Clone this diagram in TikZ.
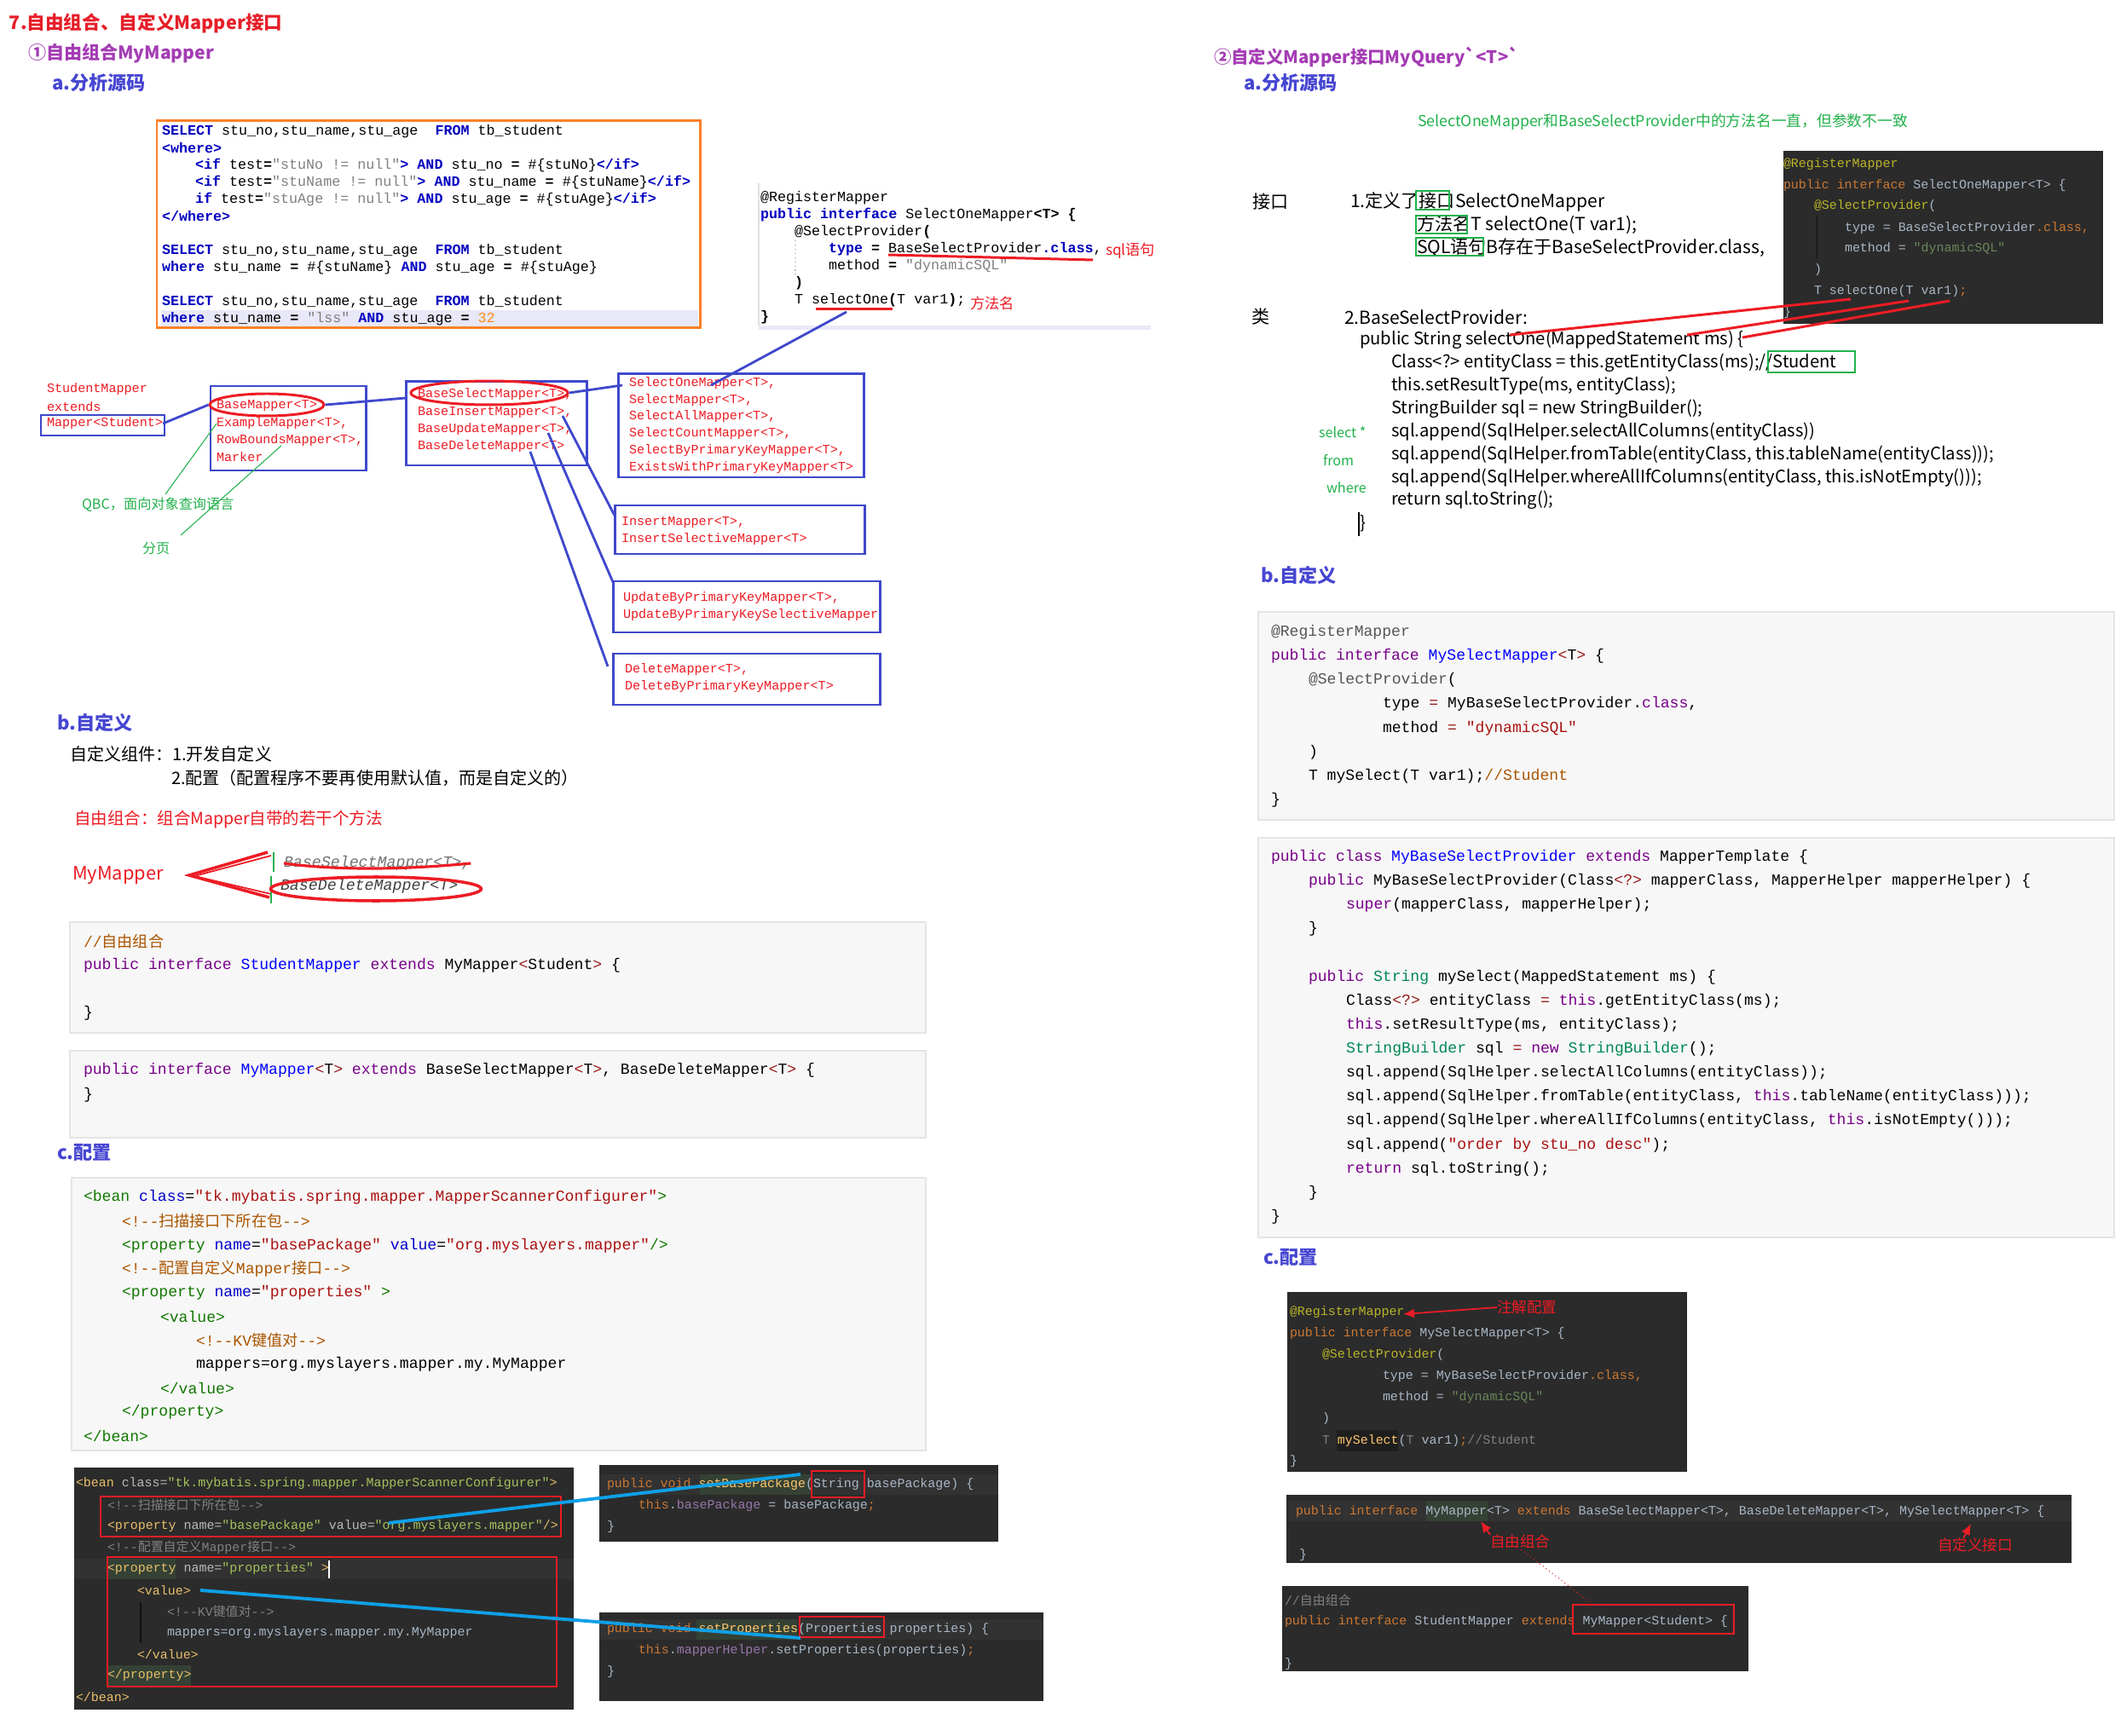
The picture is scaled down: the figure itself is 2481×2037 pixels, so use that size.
\documentclass[tikz,border=0pt]{standalone}
\usepackage{fontspec}
\usepackage{xcolor}
\usepackage{tikz}
\usetikzlibrary{arrows.meta, positioning, calc, shapes.geometric}
\setmonofont{Liberation Mono}
\newfontfamily\cjk{Noto Sans CJK SC}[Ligatures=TeXOff]
\newcommand\fsz[1]{\fontsize{#1}{#1}\selectfont}
\newcommand\zh[1]{{\cjk #1}}

\definecolor{tred}{HTML}{E61E28}
\definecolor{tpur}{HTML}{A43CB4}
\definecolor{tblu}{HTML}{4646D2}
\definecolor{obox}{HTML}{FF7F27}
\definecolor{bblue}{HTML}{3F48CC}
\definecolor{mred}{HTML}{ED1C24}
\definecolor{mgrn}{HTML}{22B14C}
\definecolor{ijkw}{HTML}{0000C0}
\definecolor{ijst}{HTML}{808080}
\definecolor{ijnum}{HTML}{FF8C1A}
\definecolor{lav}{HTML}{E8E8F8}
\definecolor{cmbg}{HTML}{F7F7F7}
\definecolor{cmbd}{HTML}{E4E4E4}
\definecolor{cmkw}{HTML}{770088}
\definecolor{cmdef}{HTML}{0000FF}
\definecolor{cmcom}{HTML}{AA5500}
\definecolor{cmstr}{HTML}{AA1111}
\definecolor{cmtag}{HTML}{117700}
\definecolor{cmatt}{HTML}{0000CC}
\definecolor{cmtyp}{HTML}{008855}
\definecolor{cmop}{HTML}{981A1A}
\definecolor{cmmeta}{HTML}{555555}
\definecolor{dbg}{HTML}{2B2B2B}
\definecolor{drow}{HTML}{323232}
\definecolor{dhl}{HTML}{344134}
\definecolor{dfg}{HTML}{A9B7C6}
\definecolor{dkw}{HTML}{CC7832}
\definecolor{dann}{HTML}{BBB529}
\definecolor{dstr}{HTML}{6A8759}
\definecolor{dcom}{HTML}{808080}
\definecolor{dtag}{HTML}{E8BF6A}
\definecolor{datt}{HTML}{BABABA}
\definecolor{dxv}{HTML}{A5C25C}
\definecolor{dfun}{HTML}{FFC66D}
\definecolor{dfld}{HTML}{9876AA}
\definecolor{cyln}{HTML}{0FA0E6}

\newcommand\ijk[1]{\textcolor{ijkw}{\textbf{#1}}}
\newcommand\ijb[1]{\textbf{#1}}
\newcommand\ijs[1]{\textcolor{ijst}{#1}}
\newcommand\cmk[1]{\textcolor{cmkw}{#1}}
\newcommand\cmdf[1]{\textcolor{cmdef}{#1}}
\newcommand\cmc[1]{\textcolor{cmcom}{#1}}
\newcommand\cms[1]{\textcolor{cmstr}{#1}}
\newcommand\cmt[1]{\textcolor{cmtag}{#1}}
\newcommand\cma[1]{\textcolor{cmatt}{#1}}
\newcommand\cmy[1]{\textcolor{cmtyp}{#1}}
\newcommand\cmo[1]{\textcolor{cmop}{#1}}
\newcommand\cmm[1]{\textcolor{cmmeta}{#1}}
\newcommand\dkw[1]{\textcolor{dkw}{#1}}
\newcommand\dan[1]{\textcolor{dann}{#1}}
\newcommand\dst[1]{\textcolor{dstr}{#1}}
\newcommand\dcm[1]{\textcolor{dcom}{#1}}
\newcommand\dtg[1]{\textcolor{dtag}{#1}}
\newcommand\dat[1]{\textcolor{datt}{#1}}
\newcommand\dxs[1]{\textcolor{dxv}{#1}}
\newcommand\dfn[1]{\textcolor{dfun}{#1}}
\newcommand\dfl[1]{\textcolor{dfld}{#1}}

\begin{document}
\begin{tikzpicture}[
    x=0.1mm, y=-0.1mm,
    txt/.style={inner sep=0, outer sep=0, anchor=west},
    hd/.style={txt, font=\cjk\bfseries\fsz{6pt}},
    nt/.style={txt, font=\cjk\fsz{5.7pt}},
    rn/.style={txt, font=\cjk\fsz{5.75pt}},
    sq/.style={txt, font=\ttfamily\fsz{4.75pt}},
    hr/.style={txt, text=mred, font=\ttfamily\fsz{4.3pt}},
    lc/.style={txt, font=\ttfamily\fsz{5.15pt}},
    dc/.style={txt, text=dfg, font=\ttfamily\fsz{4.25pt}},
    hbox/.style={draw=bblue, line width=0.85pt},
    blink/.style={bblue, line width=0.8pt},
    rell/.style={draw=mred, ellipse, line width=0.85pt, inner sep=0},
    cmblk/.style={fill=cmbg, draw=cmbd, line width=0.4pt},
    rbox/.style={draw=mred, line width=0.6pt},
    gbox/.style={draw=mgrn, line width=0.35pt},
    rpen/.style={mred, line width=0.85pt},
    cyanln/.style={cyln, line width=1.1pt},
    rarr/.style={mred, line width=0.5pt, -{Latex[length=1.3mm, width=1.1mm]}}
  ]
  \useasboundingbox (0,0) rectangle (2481,2037);
  \fill[white] (0,0) rectangle (2481,2037);

  % left column headings
  \node[hd, text=tred, font=\cjk\bfseries\fsz{6.15pt}] (ttl) at (11,27) {7.自由组合、自定义Mapper接口};
  \node[hd, text=tpur] (h1) at (33,63) {①自由组合MyMapper};
  \node[hd, text=tblu, font=\cjk\bfseries\fsz{6.3pt}] (h1a) at (61,97) {a.分析源码};

  % sql box
  \fill[lav] (189,364) rectangle (819,383);
  \draw[obox, line width=0.85pt] (184,142) rectangle (821,385);
  \node[sq] (sq1) at (190,154) {\ijk{SELECT} stu\_no,stu\_name,stu\_age~ \ijk{FROM} tb\_student};
  \node[sq] (sq2) at (190,174) {\ijk{<where>}};
  \node[sq] (sq3) at (229,194) {\ijk{<if} test\ijb{=}\ijs{"stuNo != null"}\ijk{>} \ijk{AND} stu\_no \ijb{=} \#\{stuNo\}\ijk{</if>}};
  \node[sq] (sq4) at (229,214) {\ijk{<if} test\ijb{=}\ijs{"stuName != null"}\ijk{>} \ijk{AND} stu\_name \ijb{=} \#\{stuName\}\ijk{</if>}};
  \node[sq] (sq5) at (229,234) {\ijk{if} test\ijb{=}\ijs{"stuAge != null"}\ijk{>} \ijk{AND} stu\_age \ijb{=} \#\{stuAge\}\ijk{</if>}};
  \node[sq] (sq6) at (190,254) {\ijk{</where>}};
  \node[sq] (sq7) at (190,294) {\ijk{SELECT} stu\_no,stu\_name,stu\_age~ \ijk{FROM} tb\_student};
  \node[sq] (sq8) at (190,314) {\ijk{where} stu\_name \ijb{=} \#\{stuName\} \ijk{AND} stu\_age \ijb{=} \#\{stuAge\}};
  \node[sq] (sq9) at (190,354) {\ijk{SELECT} stu\_no,stu\_name,stu\_age~ \ijk{FROM} tb\_student};
  \node[sq] (sq10) at (190,374) {\ijk{where} stu\_name \ijb{=} \ijs{"lss"} \ijk{AND} stu\_age \ijb{=} \textcolor{ijnum}{32}};

  % SelectOneMapper source
  \draw[black!12] (890,215) -- (890,382);
  \fill[lav] (890,382) rectangle (1350,387);
  \draw[black!25, densely dotted] (933,282) -- (933,322);
  \node[sq] (mc1) at (892,232) {@RegisterMapper};
  \node[sq] (mc2) at (892,252) {\ijk{public interface} SelectOneMapper\ijb{<T>} \ijb{\{}};
  \node[sq] (mc3) at (932,272) {@SelectProvider\ijb{(}};
  \node[sq] (mc4) at (972,292) {\ijk{type} \ijb{=} BaseSelectProvider\ijk{.class},};
  \node[sq] (mc5) at (972,312) {method \ijb{=} \ijs{"dynamicSQL"}};
  \node[sq] (mc6) at (932,332) {\ijb{)}};
  \node[sq] (mc7) at (932,352) {T selectOne\ijb{(}T var1\ijb{)};};
  \node[sq] (mc8) at (892,372) {\ijb{\}}};
  \draw[rpen] (1042,299) -- (1282,305);
  \node[txt, text=mred, font=\cjk\fsz{4.9pt}] (sqly) at (1297,294) {sql语句};
  \draw[rpen] (957,363) -- (1047,363);
  \node[txt, text=mred, font=\cjk\fsz{4.9pt}] (ffm) at (1138,356) {方法名};
  \coordinate (selul) at (993,366);

  % mapper hierarchy
  \node[hr] (sm1) at (55,457) {StudentMapper};
  \node[hr] (sm2) at (55,477) {extends};
  \node[hr] (sm3) at (55,497) {Mapper<Student>};
  \draw[hbox] (48,487) rectangle (193,511);
  \draw[hbox] (247,453) rectangle (429,552);
  \node[hr] (bm1) at (254,476) {BaseMapper<T>};
  \node[hr] (bm2) at (254,497) {ExampleMapper<T>,};
  \node[hr] (bm3) at (254,517) {RowBoundsMapper<T>,};
  \node[hr] (bm4) at (254,536) {Marker};
  \node[rell, minimum width=13.4mm, minimum height=2.6mm] (ebm) at (313,475) {};
  \draw[hbox] (476,448) rectangle (688,546);
  \node[hr] (bs1) at (490,463) {BaseSelectMapper<T>,};
  \node[hr] (bs2) at (490,484) {BaseInsertMapper<T>,};
  \node[hr] (bs3) at (490,504) {BaseUpdateMapper<T>,};
  \node[hr] (bs4) at (490,524) {BaseDeleteMapper<T>};
  \node[rell, minimum width=18.4mm, minimum height=2.8mm] (ebs) at (574,461) {};
  \draw[hbox] (725,439) rectangle (1013,560);
  \node[hr] (so1) at (738,450) {SelectOneMapper<T>,};
  \node[hr] (so2) at (738,470) {SelectMapper<T>,};
  \node[hr] (so3) at (738,489) {SelectAllMapper<T>,};
  \node[hr] (so4) at (738,509) {SelectCountMapper<T>,};
  \node[hr] (so5) at (738,529) {SelectByPrimaryKeyMapper<T>,};
  \node[hr] (so6) at (738,549) {ExistsWithPrimaryKeyMapper<T>};
  \draw[hbox] (721,593) rectangle (1014,650);
  \node[hr] (in1) at (729,613) {InsertMapper<T>,};
  \node[hr] (in2) at (729,633) {InsertSelectiveMapper<T>};
  \draw[hbox] (719,682) rectangle (1032,742);
  \node[hr] (up1) at (731,702) {UpdateByPrimaryKeyMapper<T>,};
  \node[hr] (up2) at (731,722) {UpdateByPrimaryKeySelectiveMapper};
  \draw[hbox] (719,767) rectangle (1032,827);
  \node[hr] (de1) at (733,786) {DeleteMapper<T>,};
  \node[hr] (de2) at (733,806) {DeleteByPrimaryKeyMapper<T>};
  \coordinate (bsIn) at (476,467);
  \coordinate (soIn) at (730,452);
  \coordinate (soHit) at (834,452);
  \coordinate (pIns) at (660,488);
  \coordinate (pUpd) at (643,508);
  \coordinate (pDel) at (622,530);
  \coordinate (qIns) at (721,605);
  \coordinate (qUpd) at (719,683);
  \coordinate (qDel) at (713,782);
  \draw[blink] (sm3.east) -- (ebm.west);
  \draw[blink] (ebm.east) -- (bsIn);
  \draw[blink] (ebs.east) -- (soIn);
  \draw[blink] (pIns) -- (qIns);
  \draw[blink] (pUpd) -- (qUpd);
  \draw[blink] (pDel) -- (qDel);
  \draw[blink] (selul) -- (soHit);
  \node[txt, text=mgrn, font=\cjk\fsz{4.6pt}] (qbc) at (96,592) {QBC，面向对象查询语言};
  \node[txt, text=mgrn, font=\cjk\fsz{4.6pt}] (fy) at (167,644) {分页};
  \coordinate (qbcTop) at (194,580);
  \coordinate (rbMid) at (330,523);
  \coordinate (fyTop) at (212,628);
  \draw[mgrn, line width=0.3pt] (bm2.west) -- (qbcTop);
  \draw[mgrn, line width=0.3pt] (rbMid) -- (fyTop);

  % b. left
  \node[hd, text=tblu, font=\cjk\bfseries\fsz{6.3pt}] (h1b) at (67,848) {b.自定义};
  \node[nt] (zdy1) at (82,885) {自定义组件：1.开发自定义};
  \node[nt] (zdy2) at (201,913) {2.配置（配置程序不要再使用默认值，而是自定义的）};
  \node[nt, text=mred, font=\cjk\fsz{5.55pt}] (zyzh) at (87,961) {自由组合：组合Mapper自带的若干个方法};
  \node[nt, text=mred, font=\cjk\fsz{6.2pt}] (mym) at (85,1027) {MyMapper};
  \draw[mred, line width=1pt] (314,1000) -- (222,1027) -- (316,1053);
  \draw[mred, line width=0.5pt] (318,1004) -- (228,1028) -- (318,1049);
  \draw[mgrn, line width=0.6pt] (321,1000) -- (321,1023);
  \draw[mgrn, line width=0.6pt] (318,1028) -- (318,1060);
  \node[txt, text=black!55, font=\ttfamily\itshape\fsz{5.2pt}] (bsm) at (333,1013) {BaseSelectMapper<T>,};
  \draw[mred, line width=0.9pt] (bsm.west) .. controls (400,1022) and (480,1020) .. (bsm.east);
  \node[txt, text=black!75, font=\ttfamily\itshape\fsz{5.2pt}] (bdm) at (329,1040) {BaseDeleteMapper<T>};
  \node[rell, line width=1pt, minimum width=24.7mm, minimum height=2.8mm] (ebd) at (441,1043) {};

  \draw[cmblk] (82,1082) rectangle (1086,1212);
  \node[lc, text=cmcom] (cb1) at (98,1105) {//\zh{自由组合}};
  \node[lc] (cb2) at (98,1133) {\cmk{public} \cmk{interface} \cmdf{StudentMapper} \cmk{extends} MyMapper\cmo{<}Student\cmo{>} \{};
  \node[lc] (cb3) at (98,1189) {\}};
  \draw[cmblk] (82,1233) rectangle (1086,1335);
  \node[lc] (cb4) at (98,1256) {\cmk{public} \cmk{interface} \cmdf{MyMapper}\cmo{<}T\cmo{>} \cmk{extends} BaseSelectMapper\cmo{<}T\cmo{>}, BaseDeleteMapper\cmo{<}T\cmo{>} \{};
  \node[lc] (cb5) at (98,1285) {\}};

  % c. left
  \node[hd, text=tblu, font=\cjk\bfseries\fsz{6.3pt}] (h1c) at (67,1352) {c.配置};
  \draw[cmblk] (84,1382) rectangle (1086,1702);
  \node[lc] (xb1) at (98,1405) {\cmt{<bean} \cma{class}=\cms{"tk.mybatis.spring.mapper.MapperScannerConfigurer"}\cmt{>}};
  \node[lc, text=cmcom] (xb2) at (143,1433) {<!--\zh{扫描接口下所在包}-->};
  \node[lc] (xb3) at (143,1462) {\cmt{<property} \cma{name}=\cms{"basePackage"} \cma{value}=\cms{"org.myslayers.mapper"}\cmt{/>}};
  \node[lc, text=cmcom] (xb4) at (143,1489) {<!--\zh{配置自定义}Mapper\zh{接口}-->};
  \node[lc] (xb5) at (143,1517) {\cmt{<property} \cma{name}=\cms{"properties"} \cmt{>}};
  \node[lc, text=cmtag] (xb6) at (188,1545) {<value>};
  \node[lc, text=cmcom] (xb7) at (230,1573) {<!--KV\zh{键值对}-->};
  \node[lc] (xb8) at (230,1601) {mappers=org.myslayers.mapper.my.MyMapper};
  \node[lc, text=cmtag] (xb9) at (188,1629) {</value>};
  \node[lc, text=cmtag] (xb10) at (143,1657) {</property>};
  \node[lc, text=cmtag] (xb11) at (98,1685) {</bean>};

  % dark screenshots left
  \fill[dbg] (87,1722) rectangle (673,2006);
  \fill[drow] (87,1829) rectangle (673,1853);
  \fill[dhl] (126,1829) rectangle (206,1853);
  \fill[dhl] (126,1954) rectangle (224,1978);
  \draw[black!60!dbg, line width=0.3pt] (165,1880) -- (165,1928);
  \node[dc] (dx1) at (89,1741) {\dtg{<bean} \dat{class=}\dxs{"tk.mybatis.spring.mapper.MapperScannerConfigurer"}\dtg{>}};
  \node[dc, text=dcom] (dx2) at (126,1766) {<!--\zh{扫描接口下所在包}-->};
  \node[dc] (dx3) at (126,1791) {\dtg{<property} \dat{name=}\dxs{"basePackage"} \dat{value=}\dxs{"org.myslayers.mapper"}\dtg{/>}};
  \node[dc, text=dcom] (dx4) at (126,1816) {<!--\zh{配置自定义}Mapper\zh{接口}-->};
  \node[dc] (dx5) at (126,1841) {\dtg{<property} \dat{name=}\dxs{"properties"} \dtg{>}};
  \node[dc, text=dtag] (dx6) at (161,1866) {<value>};
  \node[dc, text=dcom] (dx7) at (196,1891) {<!--KV\zh{键值对}-->};
  \node[dc] (dx8) at (196,1916) {mappers=org.myslayers.mapper.my.MyMapper};
  \node[dc, text=dtag] (dx9) at (161,1941) {</value>};
  \node[dc, text=dtag] (dx10) at (126,1966) {</property>};
  \node[dc, text=dtag] (dx11) at (89,1991) {</bean>};
  \draw[white, line width=0.3pt] (386,1831) -- (386,1852);
  \draw[rbox] (118,1756) rectangle (658,1803);
  \draw[rbox] (126,1827) rectangle (653,1979);

  \fill[dbg] (703,1719) rectangle (1171,1809);
  \fill[drow] (703,1730) rectangle (1171,1754);
  \fill[dhl] (821,1730) rectangle (950,1754);
  \node[dc] (sp1) at (712,1742) {\dkw{public void} \dfn{setBasePackage}(String basePackage) \{};
  \node[dc] (sp2) at (749,1767) {\dkw{this}.\dfl{basePackage} = basePackage\dkw{;}};
  \node[dc] (sp3) at (712,1792) {\}};
  \draw[rbox] (952,1726) rectangle (1014,1757);

  \fill[dbg] (703,1892) rectangle (1224,1996);
  \fill[drow] (703,1900) rectangle (1224,1924);
  \fill[dhl] (817,1900) rectangle (935,1924);
  \node[dc] (pp1) at (712,1912) {\dkw{public void} \dfn{setProperties}(Properties properties) \{};
  \node[dc] (pp2) at (749,1937) {\dkw{this}.\dfl{mapperHelper}.setProperties(properties)\dkw{;}};
  \node[dc] (pp3) at (712,1962) {\}};
  \draw[rbox] (938,1897) rectangle (1037,1921);

  \coordinate (bpkg) at (456,1787);
  \coordinate (strIn) at (939,1730);
  \coordinate (valIn) at (235,1866);
  \coordinate (prpIn) at (939,1922);
  \draw[cyanln] (bpkg) -- (strIn);
  \draw[cyanln] (valIn) -- (prpIn);

  % right column
  \node[hd, text=tpur, font=\cjk\bfseries\fsz{5.8pt}] (h2) at (1424,67) {②自定义Mapper接口MyQuery`<T>`};
  \node[hd, text=tblu, font=\cjk\bfseries\fsz{6.3pt}] (h2a) at (1459,97) {a.分析源码};
  \node[txt, text=mgrn, font=\cjk\fsz{5.05pt}] (gnote) at (1663,143) {SelectOneMapper和BaseSelectProvider中的方法名一直，但参数不一致};
  \node[rn, font=\cjk\fsz{6pt}] (jk) at (1469,237) {接口};
  \node[rn, font=\cjk\fsz{6pt}] (jk1) at (1584,237) {1.定义了接口SelectOneMapper};
  \node[rn, font=\cjk\fsz{6pt}] (jk2) at (1662,264) {方法名T selectOne(T var1);};
  \node[rn, font=\cjk\fsz{6pt}] (jk3) at (1662,291) {SQL语句B存在于BaseSelectProvider.class,};
  \draw[gbox] (1661,224) rectangle (1700,246);
  \draw[gbox] (1661,253) rectangle (1721,274);
  \draw[gbox] (1661,279) rectangle (1740,300);

  \fill[dbg] (2092,177) rectangle (2467,380);
  \draw[black!60!dbg, line width=0.3pt] (2131,253) -- (2131,303);
  \node[dc, text=dann] (tp1) at (2092,193) {@RegisterMapper};
  \node[dc] (tp2) at (2092,218) {\dkw{public interface} SelectOneMapper<T> \{};
  \node[dc] (tp3) at (2128,242) {\dan{@SelectProvider}(};
  \node[dc] (tp4) at (2164,268) {type = BaseSelectProvider\dkw{.class,}};
  \node[dc] (tp5) at (2164,292) {method = \dst{"dynamicSQL"}};
  \node[dc] (tp6) at (2128,317) {)};
  \node[dc] (tp7) at (2128,342) {T selectOne(T var1)\dkw{;}};
  \node[dc] (tp8) at (2092,367) {\}};

  \node[rn, font=\cjk\fsz{6pt}] (lei) at (1468,372) {类};
  \node[rn, font=\cjk\fsz{6pt}] (bp0) at (1577,372) {2.BaseSelectProvider:};
  \node[rn] (bp1) at (1595,399) {public String selectOne(MappedStatement ms) \{};
  \node[rn] (bp2) at (1632,426) {Class<?> entityClass = this.getEntityClass(ms);//Student};
  \node[rn] (bp3) at (1632,453) {this.setResultType(ms, entityClass);};
  \node[rn] (bp4) at (1632,480) {StringBuilder sql = new StringBuilder();};
  \node[rn] (bp5) at (1632,507) {sql.append(SqlHelper.selectAllColumns(entityClass))};
  \node[rn] (bp6) at (1632,534) {sql.append(SqlHelper.fromTable(entityClass, this.tableName(entityClass)));};
  \node[rn] (bp7) at (1632,561) {sql.append(SqlHelper.whereAllIfColumns(entityClass, this.isNotEmpty()));};
  \node[rn] (bp8) at (1632,587) {return sql.toString();};
  \node[rn] (bp9) at (1595,614) {\}};
  \draw[black, line width=0.4pt] (1594,601) -- (1594,629);
  \draw[gbox] (2074,412) rectangle (2176,437);
  \node[txt, text=mgrn, font=\cjk\fsz{4.6pt}] (gsel) at (1547,507) {select *};
  \node[txt, text=mgrn, font=\cjk\fsz{4.6pt}] (gfrom) at (1552,540) {from};
  \node[txt, text=mgrn, font=\cjk\fsz{4.6pt}] (gwhere) at (1556,572) {where};

  \coordinate (tpA) at (2171,351);
  \coordinate (tpB) at (2239,353);
  \coordinate (tpC) at (2287,353);
  \coordinate (bpA) at (1771,393);
  \coordinate (bpB) at (1979,393);
  \coordinate (bpC) at (2044,396);
  \draw[rpen] (tpA) -- (bpA);
  \draw[rpen] (tpB) -- (bpB);
  \draw[rpen] (tpC) -- (bpC);

  % b. right
  \node[hd, text=tblu, font=\cjk\bfseries\fsz{6.3pt}] (h2b) at (1479,675) {b.自定义};
  \draw[cmblk] (1476,718) rectangle (2480,962);
  \node[lc, text=cmmeta] (ra1) at (1491,742) {@RegisterMapper};
  \node[lc] (ra2) at (1491,770) {\cmk{public} \cmk{interface} \cmdf{MySelectMapper}\cmo{<}T\cmo{>} \{};
  \node[lc] (ra3) at (1535,798) {\cmm{@SelectProvider}(};
  \node[lc] (ra4) at (1622,826) {type \cmo{=} MyBaseSelectProvider.\cmk{class},};
  \node[lc] (ra5) at (1622,855) {method \cmo{=} \cms{"dynamicSQL"}};
  \node[lc] (ra6) at (1535,883) {)};
  \node[lc] (ra7) at (1535,911) {T mySelect(T var1);\cmc{//Student}};
  \node[lc] (ra8) at (1491,939) {\}};

  \draw[cmblk] (1476,983) rectangle (2480,1452);
  \node[lc] (rp1) at (1491,1006) {\cmk{public} \cmk{class} \cmdf{MyBaseSelectProvider} \cmk{extends} MapperTemplate \{};
  \node[lc] (rp2) at (1535,1034) {\cmk{public} MyBaseSelectProvider(Class\cmo{<?>} mapperClass, MapperHelper mapperHelper) \{};
  \node[lc] (rp3) at (1579,1062) {\cmk{super}(mapperClass, mapperHelper);};
  \node[lc] (rp4) at (1535,1090) {\}};
  \node[lc] (rp5) at (1535,1147) {\cmk{public} \cmy{String} mySelect(MappedStatement ms) \{};
  \node[lc] (rp6) at (1579,1175) {Class\cmo{<?>} entityClass \cmo{=} \cmk{this}.getEntityClass(ms);};
  \node[lc] (rp7) at (1579,1203) {\cmk{this}.setResultType(ms, entityClass);};
  \node[lc] (rp8) at (1579,1231) {\cmy{StringBuilder} sql \cmo{=} \cmk{new} \cmy{StringBuilder}();};
  \node[lc] (rp9) at (1579,1259) {sql.append(SqlHelper.selectAllColumns(entityClass));};
  \node[lc] (rp10) at (1579,1287) {sql.append(SqlHelper.fromTable(entityClass, \cmk{this}.tableName(entityClass)));};
  \node[lc] (rp11) at (1579,1315) {sql.append(SqlHelper.whereAllIfColumns(entityClass, \cmk{this}.isNotEmpty()));};
  \node[lc] (rp12) at (1579,1344) {sql.append(\cms{"order by stu\_no desc"});};
  \node[lc] (rp13) at (1579,1372) {\cmk{return} sql.toString();};
  \node[lc] (rp14) at (1535,1400) {\}};
  \node[lc] (rp15) at (1491,1428) {\}};

  % c. right
  \node[hd, text=tblu, font=\cjk\bfseries\fsz{6.3pt}] (h2c) at (1482,1475) {c.配置};
  \fill[dbg] (1510,1516) rectangle (1979,1727);
  \fill[black!30!dbg] (1568,1678) rectangle (1640,1703);
  \node[dc, text=dann] (pa1) at (1513,1540) {@RegisterMapper};
  \node[dc] (pa2) at (1513,1565) {\dkw{public interface} MySelectMapper<T> \{};
  \node[dc] (pa3) at (1551,1590) {\dan{@SelectProvider}(};
  \node[dc] (pa4) at (1622,1615) {type = MyBaseSelectProvider\dkw{.class,}};
  \node[dc] (pa5) at (1622,1640) {method = \dst{"dynamicSQL"}};
  \node[dc] (pa6) at (1551,1665) {)};
  \node[dc] (pa7) at (1551,1691) {\dcm{T} \dfn{mySelect}(\dcm{T} var1)\dkw{;}\dcm{//Student}};
  \node[dc] (pa8) at (1513,1715) {\}};
  \node[txt, text=mred, font=\cjk\fsz{5pt}] (zjpz) at (1756,1534) {注解配置};
  \coordinate (regTip) at (1646,1542);
  \draw[rarr] (zjpz.west) -- (regTip);

  \fill[dbg] (1509,1754) rectangle (2430,1834);
  \fill[drow] (1512,1761) rectangle (2430,1785);
  \fill[dhl] (1673,1761) rectangle (1745,1785);
  \node[dc] (pb1) at (1520,1774) {\dkw{public interface} MyMapper<T> \dkw{extends} BaseSelectMapper<T>, BaseDeleteMapper<T>, MySelectMapper<T> \{};
  \node[dc] (pb2) at (1524,1825) {\}};
  \node[txt, text=mred, font=\cjk\fsz{5pt}] (zyzh2) at (1748,1809) {自由组合};
  \node[txt, text=mred, font=\cjk\fsz{5pt}] (zdyjk) at (2273,1813) {自定义接口};
  \coordinate (mmTip) at (1737,1785);
  \coordinate (msTip) at (2312,1788);
  \draw[rarr] (zyzh2.north west) -- (mmTip);
  \draw[rarr] (2303,1805) -- (msTip);

  \fill[dbg] (1504,1861) rectangle (2051,1961);
  \node[dc, text=dcom] (pc1) at (1507,1878) {//\zh{自由组合}};
  \node[dc] (pc2) at (1507,1903) {\dkw{public interface} StudentMapper \dkw{extends} MyMapper<Student> \{};
  \node[dc] (pc3) at (1507,1953) {\}};
  \draw[rbox] (1845,1883) rectangle (2034,1917);
  \coordinate (smBox) at (1865,1880);
  \draw[mred, line width=0.3pt, densely dotted] (smBox) -- (zyzh2.south);
\end{tikzpicture}
\end{document}
